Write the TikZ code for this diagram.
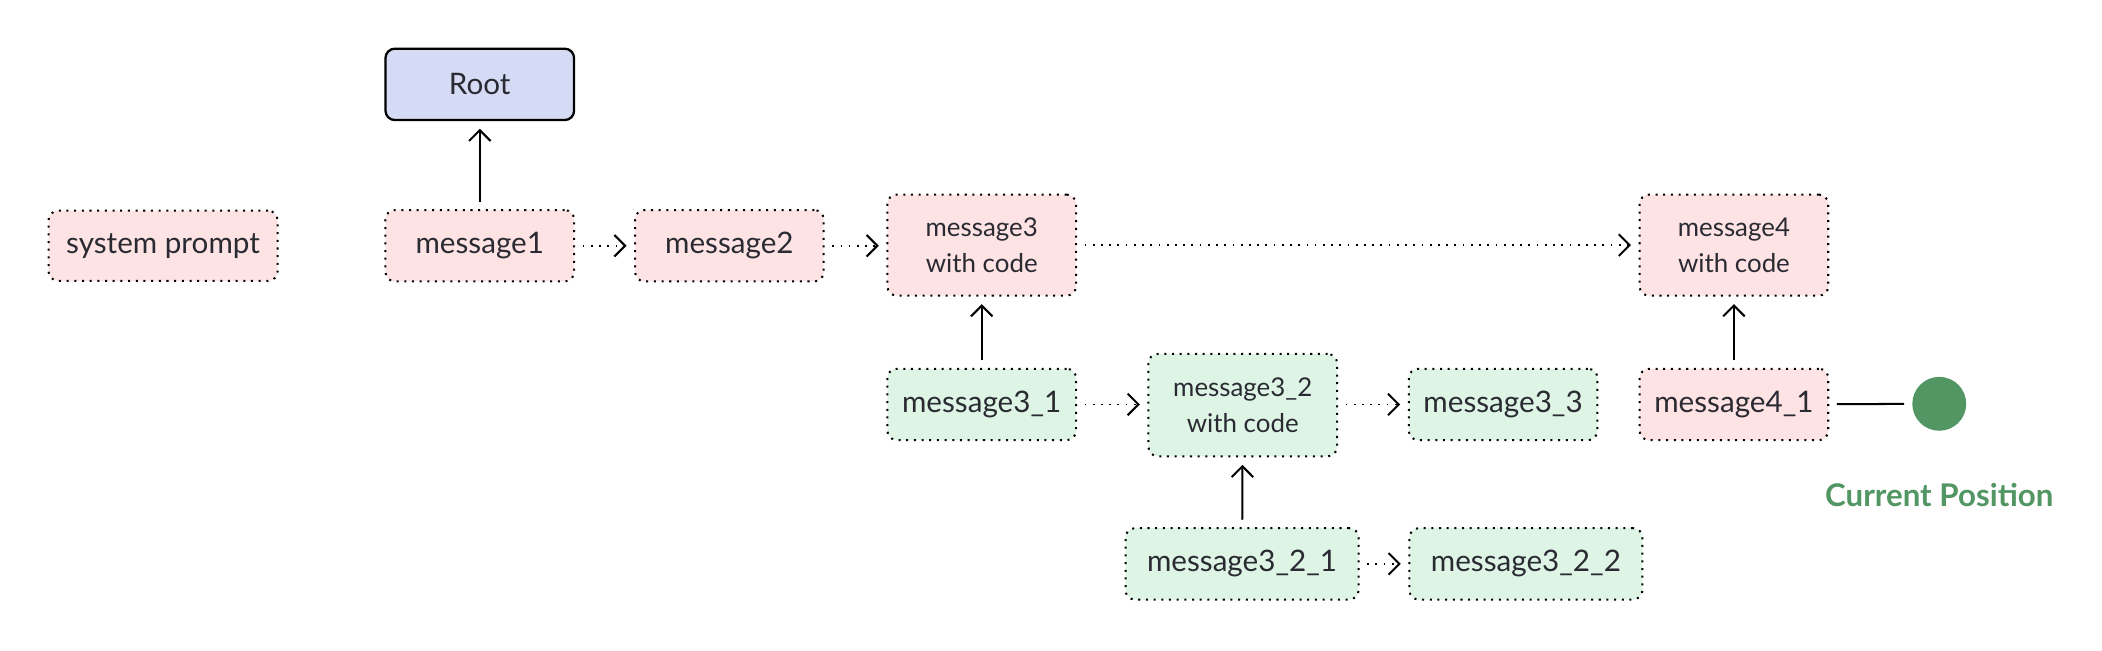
\documentclass[tikz,border=0pt]{standalone}
\usepackage{fontspec}
\setmainfont{Lato}
\usetikzlibrary{arrows.meta}
\definecolor{pinkfill}{HTML}{FDE3E3}
\definecolor{greenfill}{HTML}{DEF4E5}
\definecolor{rootfill}{HTML}{D6DBF5}
\definecolor{dotgreen}{HTML}{529664}
\definecolor{textc}{HTML}{2A2A33}
\begin{document}
\begin{tikzpicture}[
  box/.style={draw=black, rounded corners=3.5pt, line width=0.75pt,
    dash pattern=on 0.75pt off 2.1pt, inner sep=0pt, align=center, text=textc,
    font=\fontsize{11}{13}\selectfont},
  pinkbox/.style={box, fill=pinkfill},
  greenbox/.style={box, fill=greenfill},
  wide/.style={minimum width=86.5pt, minimum height=26.5pt},
  norm/.style={minimum width=70pt, minimum height=26.5pt},
  tall/.style={minimum width=70pt, minimum height=37.5pt,
    font=\fontsize{9.6}{13.5}\selectfont},
  dotarrow/.style={-{Straight Barb[length=4pt,width=8pt,line width=0.75pt]},
    line width=0.65pt, dash pattern=on 0.65pt off 2.4pt,
    shorten >=2.8pt, shorten <=2.8pt},
  solidarrow/.style={-{Straight Barb[length=4pt,width=8pt,line width=0.75pt]},
    line width=0.75pt, shorten >=2.8pt, shorten <=2.8pt},
]
\useasboundingbox (0pt,0pt) rectangle (780pt,-241.3pt);
\begin{scope}[x=0.498pt,y=-0.497pt,xshift=-0.5pt,yshift=0.25pt]
\node[pinkbox, minimum width=85pt, minimum height=26pt] (sys) at (122.5,184) {system prompt};
\node[box, draw=black, solid, line width=0.85pt, fill=rootfill, norm] (root) at (358.5,63.5) {Root};
\node[pinkbox, norm] (m1) at (358.5,184) {message1};
\node[pinkbox, norm] (m2) at (544.5,184) {message2};
\node[pinkbox, tall] (m3) at (732.5,183.5) {message3\\with code};
\node[pinkbox, tall] (m4) at (1293,183.5) {message4\\with code};
\node[greenbox, norm] (m31) at (732.5,302.5) {message3\_1};
\node[greenbox, tall, minimum height=38pt] (m32) at (927,303) {message3\_2\\with code};
\node[greenbox, norm] (m33) at (1121,302.5) {message3\_3};
\node[pinkbox, norm] (m41) at (1293,302.5) {message4\_1};
\node[greenbox, wide] (m321) at (926.5,421.5) {message3\_2\_1};
\node[greenbox, wide] (m322) at (1138,421.5) {message3\_2\_2};
\node[circle, fill=dotgreen, minimum size=20pt, inner sep=0pt] (cur) at (1446,302) {};
\node[text=dotgreen, font=\fontsize{11.6}{13}\selectfont\bfseries] (curlab) at (1446,370) {Current Position};
\end{scope}

\draw[solidarrow] (m1) -- (root);
\draw[dotarrow] (m1) -- (m2);
\draw[dotarrow] (m2) -- (m3.west |- m2);
\draw[dotarrow] (m3) -- (m4);
\draw[solidarrow] (m31) -- (m3);
\draw[dotarrow] (m31) -- (m32.west |- m31);
\draw[dotarrow] (m32.east |- m33) -- (m33);
\draw[solidarrow] (m321) -- (m32);
\draw[dotarrow] (m321) -- (m322);
\draw[solidarrow] (m41) -- (m4);
\draw[line width=0.75pt, shorten <=2.8pt, shorten >=2.8pt] (m41) -- (cur);
\end{tikzpicture}
\end{document}
